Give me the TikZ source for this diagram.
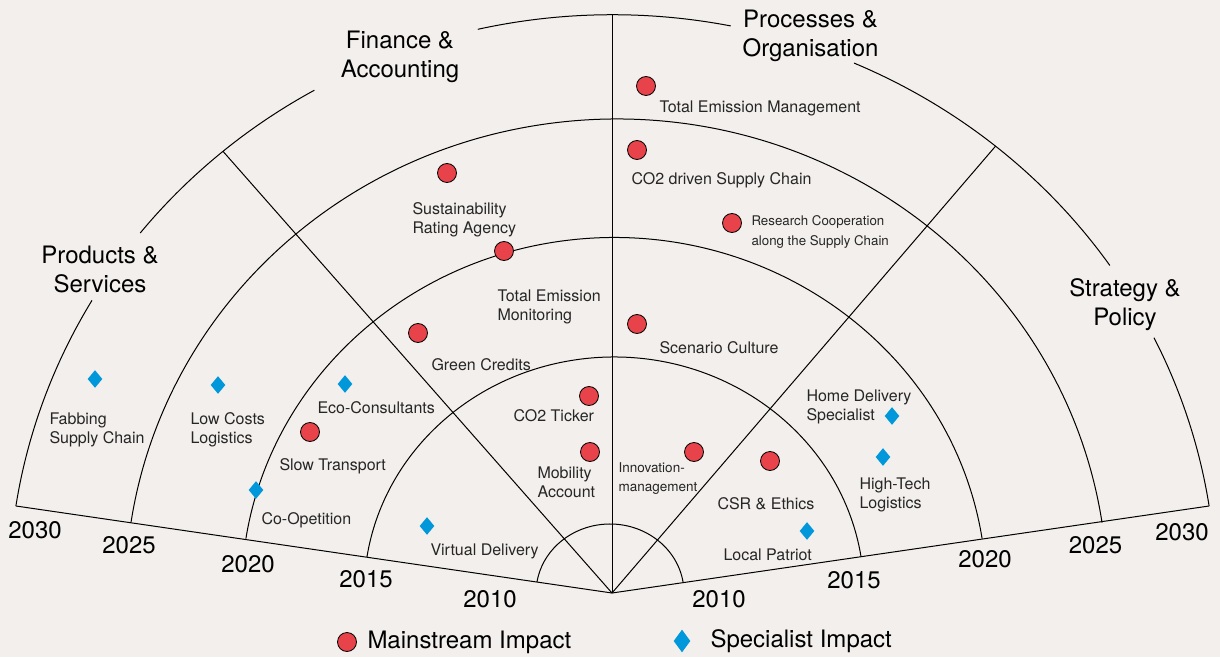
\documentclass[tikz,border=0pt]{standalone}
\usepackage{fontspec}
\setmainfont{TeX Gyre Heros}
\usepackage{xcolor}
\usetikzlibrary{shapes.geometric}
\usetikzlibrary{positioning}

\definecolor{paper}{HTML}{F2EFEC}
\definecolor{impactred}{HTML}{E8424A}
\definecolor{impactblue}{HTML}{0098DA}

\tikzset{
  mainstream/.style={circle, draw=black, line width=.8pt, fill=impactred, minimum size=19pt, inner sep=0pt},
  specialist/.style={diamond, fill=impactblue, minimum width=15pt, minimum height=18pt, inner sep=0pt},
  item/.style={anchor=west, align=left, inner sep=0pt, text=black!85, font=\fontsize{16}{19}\selectfont},
  smallitem/.style={anchor=west, align=left, inner sep=0pt, text=black!85, font=\fontsize{13.3}{20}\selectfont},
  sector/.style={align=center, font=\fontsize{24}{29}\selectfont},
  year/.style={font=\fontsize{24}{29}\selectfont},
}

\begin{document}
\begin{tikzpicture}[x=1pt, y=1pt, line width=1pt]
  \fill[paper] (0,0) rectangle (1220,657);
  \useasboundingbox (0,0) rectangle (1220,657);

  % rings: centre x / x radius / y radius / angle at the base line
  \coordinate (o) at (612,64);
  \foreach \cx/\xr/\yr/\t in {610/74/69/9.2, 614/250/236/8.8, 614/372.5/355.5/8.8, 616.5/491/474/8.55}
    \draw (\cx,64) ++(\t:\xr pt and \yr pt) arc[start angle=\t, end angle=180-\t, x radius=\xr pt, y radius=\yr pt];
  % outer ring, open where the sector titles sit
  \coordinate (c30) at (612.5,64);
  \foreach \a/\b in {8.65/26.2, 34.5/66.4, 78.7/102.9, 119.6/141.5, 149.6/171.35}
    \draw (c30) ++(\a:603.5pt and 578.3pt) arc[start angle=\a, end angle=\b, x radius=603.5pt, y radius=578.3pt];

  % base lines and sector borders
  \coordinate (lend) at (16,151);
  \coordinate (rend) at (1209,151);
  \draw (lend) -- (o) -- (rend);
  \draw (o) -- (612,642.3);
  \draw (o) -- ([shift={(130.2:603.5pt and 578.3pt)}]c30);
  \draw (o) -- ([shift={(50.6:603.5pt and 578.3pt)}]c30);

  % sector titles
  \node[sector] (products) at (100,387.5) {Products \&\\Services};
  \node[sector] (finance) at (400,600.5) {Finance \&\\Accounting};
  \node[sector] (processes) at (810.5,621.5) {Processes \&\\Organisation};
  \node[sector] (strategy) at (1125,352.5) {Strategy \&\\Policy};

  % years
  \node[year] (l2030) at (35,127) {2030};
  \node[year] (l2025) at (129,112) {2025};
  \node[year] (l2020) at (248,93) {2020};
  \node[year] (l2015) at (366,78) {2015};
  \node[year] (l2010) at (490,58) {2010};
  \node[year] (r2010) at (719,58) {2010};
  \node[year] (r2015) at (854,77) {2015};
  \node[year] (r2020) at (985,98) {2020};
  \node[year] (r2025) at (1095.5,112) {2025};
  \node[year] (r2030) at (1182,125) {2030};

  % mainstream impact
  \node[mainstream] (tem) at (646,571) {};
  \node[item] (temlab) at (659,548.5) {Total Emission Management};
  \node[mainstream] (co2sc) at (637,507) {};
  \node[item] (co2sclab) at (631,476.5) {CO2 driven Supply Chain};
  \node[mainstream] (research) at (732,434) {};
  \node[smallitem] (researchlab) at (751,425) {Research Cooperation\\along the Supply Chain};
  \node[mainstream] (rating) at (447,484) {};
  \node[item] (ratinglab) at (412,437.5) {Sustainability\\Rating Agency};
  \node[mainstream] (monitor) at (504,406) {};
  \node[item] (monitorlab) at (497,350.5) {Total Emission\\Monitoring};
  \node[mainstream] (green) at (418,324) {};
  \node[item] (greenlab) at (431,292.5) {Green Credits};
  \node[mainstream] (scenario) at (637,333) {};
  \node[item] (scenariolab) at (659,309.5) {Scenario Culture};
  \node[mainstream] (ticker) at (589,261) {};
  \node[item] (tickerlab) at (513,241.5) {CO2 Ticker};
  \node[mainstream] (mobility) at (590,205) {};
  \node[item] (mobilitylab) at (537,174.5) {Mobility\\Account};
  \node[mainstream] (innov) at (694,205) {};
  \node[smallitem, font=\fontsize{13.5}{19}\selectfont] (innovlab) at (618,178.5) {Innovation-\\management};
  \node[mainstream] (csr) at (770,196) {};
  \node[item] (csrlab) at (717,153.5) {CSR \& Ethics};
  \node[mainstream] (slow) at (310,225) {};
  \node[item] (slowlab) at (279,190.5) {Slow Transport};

  % specialist impact
  \node[specialist] (fabbing) at (95,278) {};
  \node[item] (fabbinglab) at (49,227) {Fabbing\\Supply Chain};
  \node[specialist] (lowcost) at (218,272) {};
  \node[item] (lowcostlab) at (190,227) {Low Costs\\Logistics};
  \node[specialist] (eco) at (345,273) {};
  \node[item] (ecolab) at (317,249.5) {Eco-Consultants};
  \node[specialist] (coop) at (256,167) {};
  \node[item] (cooplab) at (261,136.5) {Co-Opetition};
  \node[specialist] (virtual) at (427,131) {};
  \node[item] (virtuallab) at (430,105.5) {Virtual Delivery};
  \node[specialist] (local) at (807,126) {};
  \node[item] (locallab) at (723,102.5) {Local Patriot};
  \node[specialist] (home) at (892,241) {};
  \node[item] (homelab) at (806,250.5) {Home Delivery\\Specialist};
  \node[specialist] (hightech) at (883,200) {};
  \node[item] (hightechlab) at (859,162.5) {High-Tech\\Logistics};

  % legend
  \node[mainstream] (keyred) at (347,15) {};
  \node[year, anchor=west, inner sep=0pt] (keyredlab) at (367,15) {Mainstream Impact};
  \node[specialist, minimum width=17pt, minimum height=23pt] (keyblue) at (682,16) {};
  \node[year, anchor=west, inner sep=0pt] (keybluelab) at (710,16) {Specialist Impact};
\end{tikzpicture}
\end{document}
